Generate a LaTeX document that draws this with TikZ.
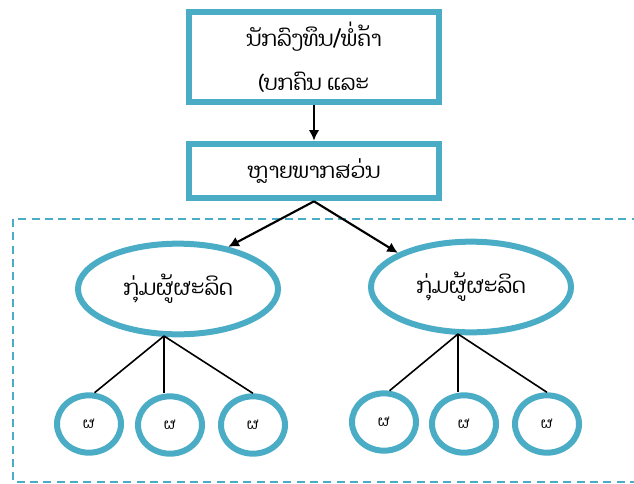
\documentclass[tikz,border=0pt]{standalone}
\usepackage{fontspec}
\newfontfamily\laofont[Script=Lao]{Dhyana}
\usetikzlibrary{shapes.geometric,arrows.meta}
\definecolor{boxblue}{RGB}{75,172,198}
\tikzset{
  topbox/.style={draw=boxblue, line width=4.5pt, fill=white, minimum width=188pt, font=\laofont\fontsize{16}{34}\selectfont, align=center},
  groupell/.style={draw=boxblue, line width=4.5pt, ellipse, minimum width=150pt, minimum height=68pt, font=\laofont\fontsize{16}{18}\selectfont},
  membell/.style={draw=boxblue, line width=4.5pt, ellipse, minimum width=48pt, minimum height=43pt, inner sep=0pt, font=\laofont\fontsize{11}{12}\selectfont},
  arr/.style={-{Latex[length=8pt,width=8pt]}, line width=1.6pt},
  twig/.style={line width=1.2pt}
}
\begin{document}
\begin{tikzpicture}[x=0.75pt, y=-0.75pt]%
   \useasboundingbox (0,0) rectangle (634,483);
   \draw[boxblue, line width=1pt, dash pattern=on 6pt off 4pt] (13,219) rectangle (650,482);
   % top boxes
   \node[topbox, minimum height=68pt, inner ysep=2pt] (trader) at (314,57) {ນັກລົງທຶນ/ພໍ່ຄ້າ\\[-1pt](ບກຄົນ ແລະ};
   \node[topbox, minimum height=41pt] (parties) at (314,171) {ຫຼາຍພາກສວ່ນ};
   % producer groups
   \node[groupell] (groupA) at (178,289) {ກຸ່ມຜູ້ຜະລິດ};
   \node[groupell] (groupB) at (471,287) {ກຸ່ມຜູ້ຜະລິດ};
   % members
   \node[membell] (a1) at (89,424) {ຜ};
   \node[membell] (a2) at (170,425) {ຜ};
   \node[membell] (a3) at (253,425) {ຜ};
   \node[membell] (b1) at (384,422) {ຜ};
   \node[membell] (b2) at (464,424) {ຜ};
   \node[membell] (b3) at (547,424) {ຜ};
   % arrows
   \draw[arr] (trader.south) -- (parties.north);
   \draw[arr] (parties.south) -- (groupA.40);
   \draw[arr] (parties.south) -- (groupB.155);
   % lines to members
   \coordinate (ta) at (164,336);
   \coordinate (tb) at (458,334);
   \draw[twig] (ta) -- (a1.80);
   \draw[twig] (ta) -- (ta |- a2.north);
   \draw[twig] (ta) -- (a3.north);
   \draw[twig] (tb) -- (b1.80);
   \draw[twig] (tb) -- (tb |- b2.north);
   \draw[twig] (tb) -- (b3.north);
\end{tikzpicture}
\end{document}
